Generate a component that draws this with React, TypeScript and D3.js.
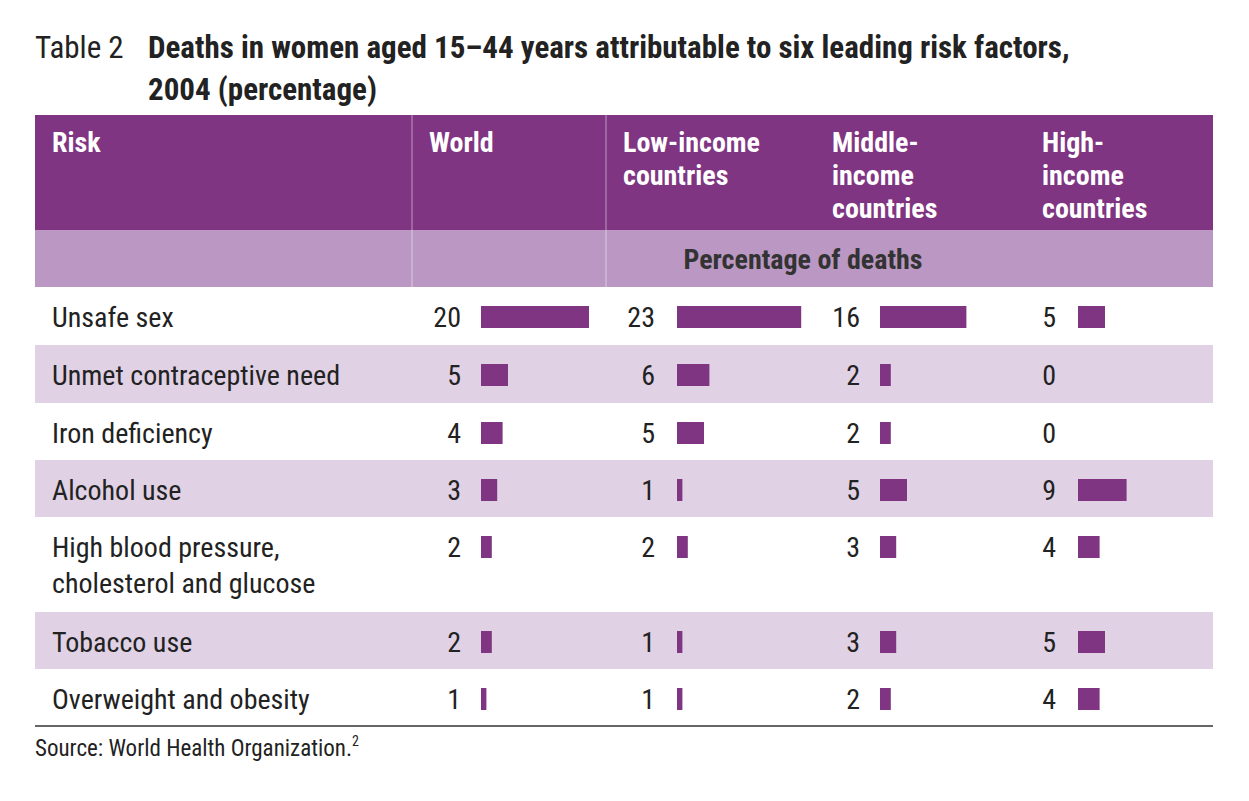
import React from 'react';
import * as d3 from 'd3';

const risks = [
  ['Unsafe sex'],
  ['Unmet contraceptive need'],
  ['Iron deficiency'],
  ['Alcohol use'],
  ['High blood pressure,', 'cholesterol and glucose'],
  ['Tobacco use'],
  ['Overweight and obesity'],
];
const world = [20, 5, 4, 3, 2, 2, 1];
const lowIncome = [23, 6, 5, 1, 2, 1, 1];
const middleIncome = [16, 2, 2, 5, 3, 3, 2];
const highIncome = [5, 0, 0, 9, 4, 5, 4];
const columnHeads = [['World'], ['Low-income', 'countries'], ['Middle-', 'income', 'countries'], ['High-', 'income', 'countries']];

const PURPLE = '#7f3582';
const LIGHT = '#e0d1e5';
const MID = '#bb98c3';
const FONT = '"Liberation Sans Narrow", "Arial Narrow", "Roboto Condensed", sans-serif';

export default function App() {
  const W = 1249, H = 801;
  const left = 35, right = 1213;
  const colX = [412, 606, 815, 1025];
  const rowH = [58, 58, 57, 57, 95, 57, 57];
  const rowTop: number[] = [];
  rowH.reduce((acc, h) => { rowTop.push(acc); return acc + h; }, 287);
  const bottom = rowTop[6] + rowH[6];
  const x = d3.scaleLinear().domain([0, 20]).range([0, 108]);
  const series = [world, lowIncome, middleIncome, highIncome];
  const numX = [461, 655, 860, 1056];
  const barX = [481, 677, 880, 1078];

  return (
    <svg width={W} height={H} style={{ display: 'block', position: 'absolute', left: 0, top: 0 }} fontFamily={FONT}>
      <rect width={W} height={H} fill="#fff" />
      <text x={left} y={58} fontSize={31} fill="#222">Table 2</text>
      <text x={148} y={58} fontSize={31} fontWeight="bold" fill="#222">Deaths in women aged 15–44 years attributable to six leading risk factors,</text>
      <text x={148} y={100} fontSize={31} fontWeight="bold" fill="#222">2004 (percentage)</text>

      <rect x={left} y={115} width={right - left} height={115} fill={PURPLE} />
      <rect x={left} y={230} width={right - left} height={57} fill={MID} />
      {colX.slice(0, 2).map((c, i) => (
        <line key={i} x1={c} x2={c} y1={115} y2={287} stroke="#fff" strokeWidth={1} opacity={0.5} />
      ))}
      <text x={52} y={152} fontSize={28} fontWeight="bold" fill="#fff">Risk</text>
      {columnHeads.map((lines, i) => (
        <text key={i} x={colX[i] + 17} y={152} fontSize={28} fontWeight="bold" fill="#fff">
          {lines.map((l, j) => <tspan key={j} x={colX[i] + 17} dy={j === 0 ? 0 : 33}>{l}</tspan>)}
        </text>
      ))}
      <text x={803} y={269} fontSize={28} fontWeight="bold" fill="#333" textAnchor="middle">Percentage of deaths</text>

      {risks.map((lines, r) => (
        <g key={r}>
          {r % 2 === 1 && <rect x={left} y={rowTop[r]} width={right - left} height={rowH[r]} fill={LIGHT} />}
          <text x={52} y={rowTop[r] + 40} fontSize={28} fill="#222">
            {lines.map((l, j) => <tspan key={j} x={52} dy={j === 0 ? 0 : 36}>{l}</tspan>)}
          </text>
          {series.map((s, c) => (
            <g key={c}>
              <text x={numX[c]} y={rowTop[r] + 40} fontSize={28} fill="#222" textAnchor="end">{s[r]}</text>
              {s[r] > 0 && <rect x={barX[c]} y={rowTop[r] + 19} width={x(s[r])} height={22} fill={PURPLE} />}
            </g>
          ))}
        </g>
      ))}
      <line x1={left} x2={right} y1={bottom} y2={bottom} stroke="#333" strokeWidth={1.5} />
      <text x={left} y={756} fontSize={23} fill="#222">Source: World Health Organization.<tspan fontSize={14} dy={-10}>2</tspan></text>
    </svg>
  );
}
